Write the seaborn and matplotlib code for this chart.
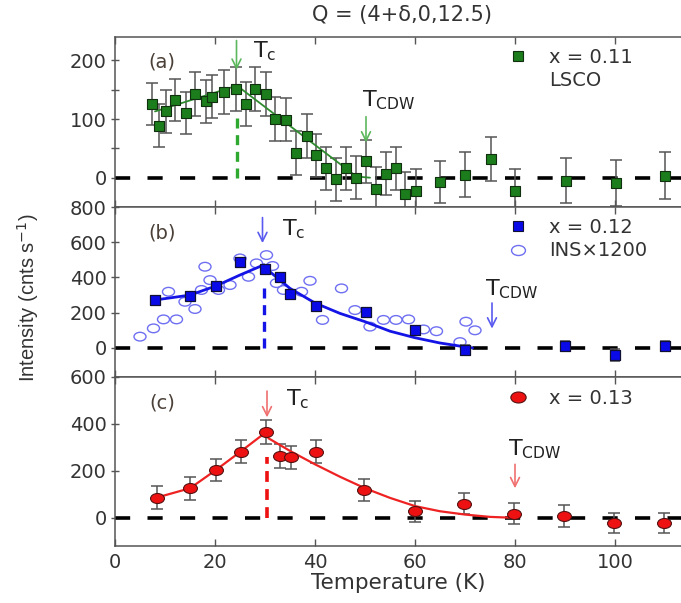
import numpy as np
import pandas as pd
import matplotlib
matplotlib.use("Agg")
import matplotlib.pyplot as plt
import seaborn as sns
from matplotlib.path import Path
from matplotlib.lines import Line2D

# ---------------- data ----------------
# (a) x = 0.11 LSCO
a_T = [7.3, 8.7, 10.2, 12.0, 14.2, 16.0, 18.2, 19.3, 21.8, 24.2, 26.2, 28.0, 30.2, 32.0, 34.2,
       36.2, 38.3, 40.2, 42.2, 44.2, 46.2, 48.2, 50.2, 52.2, 54.2, 56.2, 58.0, 60.2, 65.0,
       70.0, 75.1, 80.0, 90.2, 100.2, 110.0]
a_I = [126, 89, 113, 132, 111, 143, 130, 138, 146, 151, 126, 151, 143, 100, 99,
       42, 71, 38, 16, -3, 16, 0, 28, -19, 7, 16, -27, -23, -8,
       5, 32, -23, -5, -9, 3]
a_err = [36, 36, 36, 36, 36, 37, 37, 37, 37, 37, 37, 37, 37, 37, 37,
         37, 37, 37, 37, 37, 37, 37, 37, 37, 37, 37, 37, 37, 36,
         38, 38, 38, 38, 40, 40]
fa_T = [8, 24.4, 48.3, 51]
fa_I = [113, 157, 2, 0]

# (b) x = 0.12 and INS x1200
b_T = [8, 15, 20.2, 25, 30, 33, 35, 40.2, 50.2, 60, 70, 90, 100, 110]
b_I = [272, 295, 351, 490, 450, 400, 307, 238, 204, 102, -11, 11, -40, 11]
b_err = [22, 22, 22, 22, 22, 22, 22, 25, 25, 25, 25, 30, 35, 30]
ins_T = [5, 7.7, 9.7, 10.7, 12.3, 14, 16, 17.3, 18, 19, 20.7, 23, 25, 26.7, 28.3, 30.3,
         31.5, 32.3, 33.7, 37.3, 39, 41.5, 45.3, 48, 51, 53.7, 56.2, 58.7, 61.7, 64.3,
         69, 70.2, 72]
ins_I = [64, 111, 162, 319, 162, 262, 221, 329, 461, 385, 329, 357, 508, 404, 480, 527,
         465, 368, 329, 319, 381, 159, 338, 215, 121, 159, 159, 162, 105, 95,
         33, 149, 100]
fb_T = [8, 15, 20.2, 25, 29.8, 31, 35, 40, 45, 50, 55, 60, 65, 70, 71.5]
fb_I = [272, 300, 352, 414, 472, 432, 338, 255, 196, 149, 95, 58, 28, 6, 0]

# (c) x = 0.13
c_T = [8.3, 15, 20.2, 25.1, 30.2, 33, 35.1, 40.2, 49.8, 60, 69.8, 79.8, 89.8, 99.8, 109.7]
c_I = [86, 126, 204, 282, 365, 264, 258, 282, 119, 27, 60, 17, 8, -23, -23]
c_err = [48, 48, 48, 50, 50, 50, 50, 48, 48, 45, 45, 45, 45, 42, 42]
fc_T = [8.3, 15, 20.2, 25.1, 30.2, 30.7, 35, 40, 45, 50, 55, 60, 65, 70, 75, 80]
fc_I = [86, 126, 204, 282, 365, 339, 285, 228, 175, 126, 85, 50, 28, 14, 4, 0]

x_ticks = [0, 20, 40, 60, 80, 100]
title = "Q = (4+δ,0,12.5)"

# ---------------- style ----------------
sns.set_theme(style="white")
plt.rcParams["font.family"] = ["DejaVu Sans"]
TXT = "#333333"
SP = "#555555"
FS = 14

fig = plt.figure(figsize=(6.81, 6.03), dpi=100)
L = 115 / 681
W = 1 - L
axA = fig.add_axes([L, 1 - 207 / 603, W, 170 / 603])
axB = fig.add_axes([L, 1 - 377 / 603, W, 170 / 603])
axC = fig.add_axes([L, 1 - 546 / 603, W, 169 / 603])

circ = Path.unit_circle()
ellipse = Path(circ.vertices * np.array([1.0, 0.72]), circ.codes)

def frame(ax, ylim, yticks, ylabels, minor=None, bottom_labels=False):
    ax.set_xlim(0, 113.2)
    ax.set_ylim(*ylim)
    ax.set_xticks(x_ticks)
    ax.set_xticklabels([str(t) for t in x_ticks] if bottom_labels else [])
    ax.set_yticks(yticks)
    ax.set_yticklabels(ylabels)
    if minor is not None:
        ax.set_yticks(minor, minor=True)
    ax.tick_params(axis="x", which="both", direction="in", top=True, bottom=True,
                   length=5, width=1, color=SP, labelsize=FS, labelcolor=TXT, pad=5)
    ax.tick_params(axis="y", which="both", direction="inout", left=True, right=False,
                   length=6, width=1, color=SP, labelsize=FS, labelcolor=TXT, pad=3)
    for s in ["left", "top", "bottom"]:
        ax.spines[s].set_color(SP)
        ax.spines[s].set_linewidth(1.1)
    ax.spines["right"].set_visible(False)
    ax.axhline(0, color="black", lw=2.6, linestyle=(0, (4.2, 4.8)), zorder=1)

def arrow(ax, x, y0, y1, color):
    ax.annotate("", xy=(x, y1), xytext=(x, y0),
                arrowprops=dict(arrowstyle="->", color=color, lw=1.2, mutation_scale=16,
                                shrinkA=0, shrinkB=0))

def tlabel(ax, x, y, sub):
    ax.text(x, y, r"$\mathregular{T_{%s}}$" % sub, fontsize=16, color="#222222",
            ha="left", va="baseline")

def legend(ax, handles, labels, y):
    ax.legend(handles, labels, loc="upper left", bbox_to_anchor=(0.694, y),
              frameon=False, fontsize=FS, handlelength=1.0, handletextpad=1.1,
              borderaxespad=0, borderpad=0, labelspacing=0.22, labelcolor=TXT)

# ---------------- (a) ----------------
ax = axA
frame(ax, (-50, 240), [0, 100, 200], ["0", "100", "200"], minor=[50, 150])
dfa = pd.DataFrame({"T": a_T, "I": a_I})
ax.errorbar(a_T, a_I, yerr=a_err, fmt="none", ecolor="#555555", elinewidth=1.1,
            capsize=4, capthick=1.1, zorder=2)
sns.lineplot(x=fa_T, y=fa_I, ax=ax, color="#2e8b2e", lw=1.3, sort=False,
             estimator=None, zorder=3)
sns.scatterplot(data=dfa, x="T", y="I", ax=ax, marker="s", s=55, color="#1b7d1b",
                edgecolor="#103010", linewidth=0.8, zorder=4)
ax.plot([24.3, 24.3], [0, 104], color="#2ea82e", lw=2.4, linestyle=(0, (3.0, 2.0)), zorder=2)
arrow(ax, 24.3, 234, 184, "#5cb85c")
arrow(ax, 50.2, 104, 60, "#5cb85c")
tlabel(ax, 27.6, 206, "c")
tlabel(ax, 49.4, 121, "CDW")
ax.text(0.083, 0.85, "(a)", transform=ax.transAxes, fontsize=FS, color="#4a4038",
        ha="center", va="center")
hA = [Line2D([], [], marker="s", ls="none", ms=7, mfc="#1b7d1b", mec="#103010", mew=0.8),
      Line2D([], [], ls="none")]
legend(ax, hA, ["x = 0.11", "LSCO"], 0.935)

# ---------------- (b) ----------------
ax = axB
frame(ax, (-165, 800), [0, 200, 400, 600, 800], ["0", "200", "400", "600", "800"])
dfb = pd.DataFrame({"T": b_T, "I": b_I})
dfi = pd.DataFrame({"T": ins_T, "I": ins_I})
sns.scatterplot(data=dfi, x="T", y="I", ax=ax, marker=ellipse, s=75, facecolor="none",
                edgecolor="#6f6ff2", linewidth=1.0, zorder=2)
ax.errorbar(b_T, b_I, yerr=b_err, fmt="none", ecolor="#555555", elinewidth=1.1,
            capsize=3.5, capthick=1.1, zorder=2)
sns.lineplot(x=fb_T, y=fb_I, ax=ax, color="#1414e6", lw=2.0, sort=False,
             estimator=None, zorder=3)
sns.scatterplot(data=dfb, x="T", y="I", ax=ax, marker="s", s=55, color="#0a0ae8",
                edgecolor="#111133", linewidth=0.9, zorder=4)
ax.plot([29.8, 29.8], [0, 340], color="#1414e6", lw=2.4, linestyle=(0, (3.0, 2.0)), zorder=2)
arrow(ax, 29.5, 740, 595, "#5a5af0")
arrow(ax, 75.4, 255, 110, "#5a5af0")
tlabel(ax, 33.3, 640, "c")
tlabel(ax, 74.0, 300, "CDW")
ax.text(0.083, 0.847, "(b)", transform=ax.transAxes, fontsize=FS, color="#4a4038",
        ha="center", va="center")
hB = [Line2D([], [], marker="s", ls="none", ms=7, mfc="#0a0ae8", mec="#111133", mew=0.8),
      Line2D([], [], marker=ellipse, ls="none", ms=10, mfc="none", mec="#6f6ff2", mew=1.0)]
legend(ax, hB, ["x = 0.12", "INS×1200"], 0.935)

# ---------------- (c) ----------------
ax = axC
frame(ax, (-120, 600), [0, 200, 400, 600], ["0", "200", "400", "600"], bottom_labels=True)
dfc = pd.DataFrame({"T": c_T, "I": c_I})
ax.errorbar(c_T, c_I, yerr=c_err, fmt="none", ecolor="#555555", elinewidth=1.1,
            capsize=4, capthick=1.1, zorder=2)
sns.lineplot(x=fc_T, y=fc_I, ax=ax, color="#ee2222", lw=1.6, sort=False,
             estimator=None, zorder=3)
sns.scatterplot(data=dfc, x="T", y="I", ax=ax, marker=ellipse, s=100, color="#ee1111",
                edgecolor="#551111", linewidth=0.8, zorder=4)
ax.plot([30.3, 30.3], [0, 260], color="#ee1111", lw=2.6, linestyle=(0, (3.0, 2.0)), zorder=2)
arrow(ax, 30.4, 540, 428, "#f07070")
arrow(ax, 80.0, 228, 126, "#f07070")
tlabel(ax, 34.3, 481, "c")
tlabel(ax, 78.7, 268, "CDW")
ax.text(0.083, 0.846, "(c)", transform=ax.transAxes, fontsize=FS, color="#4a4038",
        ha="center", va="center")
hC = [Line2D([], [], marker=ellipse, ls="none", ms=11, mfc="#ee1111", mec="#551111", mew=0.8)]
legend(ax, hC, ["x = 0.13"], 0.93)

for a in (axA, axB, axC):
    a.set_xlabel("")
    a.set_ylabel("")
axC.set_xlabel("Temperature (K)", fontsize=15.5, color=TXT, labelpad=1)

fig.text(402 / 681, 1 - 15 / 603, title, fontsize=15, color=TXT, ha="center", va="center")
fig.text(28 / 681, 1 - 298 / 603, r"Intensity (cnts s$^{-1}$)", rotation=90, fontsize=14.5,
         color=TXT, ha="center", va="center", family=["Liberation Sans", "DejaVu Sans"])

fig.savefig("out.png", dpi=100)
